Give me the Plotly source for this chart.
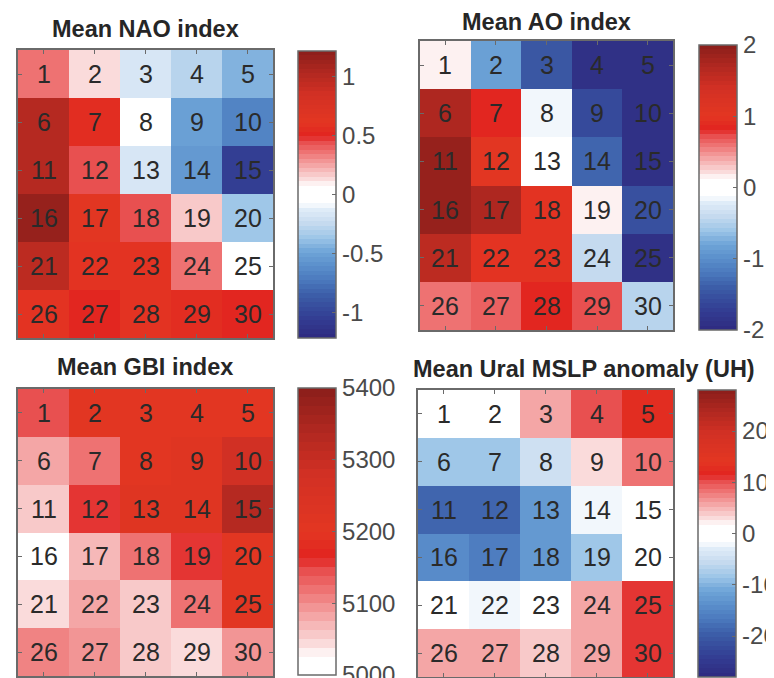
import plotly.graph_objects as go

# ---------------- data ----------------
cell_labels = [[str(r * 5 + c + 1) for c in range(5)] for r in range(6)]

nao_values = [
    [0.37, 0.12, -0.18, -0.30, -0.45],
    [1.00, 0.57, 0.00, -0.50, -0.67],
    [1.00, 0.43, -0.16, -0.57, -1.05],
    [1.18, 0.62, 0.42, 0.18, -0.37],
    [0.98, 0.60, 0.60, 0.37, 0.00],
    [0.60, 0.52, 0.58, 0.55, 0.52],
]
ao_values = [
    [0.16, -0.84, -1.44, -1.90, -1.90],
    [1.70, 0.86, -0.16, -1.60, -1.90],
    [1.90, 1.04, 0.00, -1.32, -1.90],
    [1.90, 1.70, 1.00, 0.16, -1.52],
    [1.62, 1.00, 1.00, -0.40, -1.90],
    [0.60, 0.68, 0.86, 0.70, -0.50],
]
gbi_values = [
    [5140, 5208, 5210, 5208, 5208],
    [5080, 5120, 5210, 5220, 5280],
    [5052, 5152, 5215, 5225, 5332],
    [5000, 5072, 5116, 5160, 5205],
    [5040, 5080, 5056, 5120, 5205],
    [5108, 5088, 5056, 5040, 5088],
]
ural_values = [
    [0.0, 0.0, 5.6, 10.4, 12.6],
    [-8.4, -8.4, -5.0, 2.8, 8.4],
    [-18.5, -18.5, -12.6, -2.2, 0.0],
    [-14.6, -16.2, -12.6, -8.4, 0.0],
    [0.0, -2.2, 0.0, 5.6, 10.6],
    [5.6, 5.6, 4.2, 5.6, 10.6],
]

titles = ["Mean NAO index", "Mean AO index", "Mean GBI index", "Mean Ural MSLP anomaly (UH)"]

nao_ticks = [-1, -0.5, 0, 0.5, 1]
nao_ticktext = ["-1", "-0.5", "0", "0.5", "1"]
ao_ticks = [-2, -1, 0, 1, 2]
ao_ticktext = ["-2", "-1", "0", "1", "2"]
gbi_ticks = [5000, 5100, 5200, 5300, 5400]
gbi_ticktext = ["5000", "5100", "5200", "5300", "5400"]
ural_ticks = [-20, -10, 0, 10, 20]
ural_ticktext = ["-20", "-10", "0", "10", "20"]

# ---------------- colormap ----------------
red_anchors = [
    (0.0, (255, 255, 255)), (0.06, (255, 255, 255)), (0.1, (251, 224, 224)),
    (0.2, (244, 168, 168)), (0.3, (238, 112, 112)), (0.36, (232, 80, 80)),
    (0.41, (226, 36, 32)), (0.5, (227, 54, 34)), (0.7, (210, 48, 36)),
    (0.85, (176, 40, 32)), (1.0, (138, 30, 26)),
]
blue_anchors = [
    (0.0, (255, 255, 255)), (0.06, (255, 255, 255)), (0.1, (226, 238, 249)),
    (0.2, (198, 219, 239)), (0.3, (158, 198, 232)), (0.4, (111, 165, 216)),
    (0.5, (90, 143, 203)), (0.6, (74, 120, 189)), (0.7, (60, 94, 168)),
    (0.85, (51, 63, 148)), (1.0, (46, 42, 128)),
]


def interp(anchors, f):
    f = min(max(f, 0.0), 1.0)
    for (f0, c0), (f1, c1) in zip(anchors[:-1], anchors[1:]):
        if f0 <= f <= f1:
            t = 0 if f1 == f0 else (f - f0) / (f1 - f0)
            return tuple(int(round(a + (b - a) * t)) for a, b in zip(c0, c1))
    return anchors[-1][1]


def rgb(c):
    return "rgb(%d,%d,%d)" % c


def diverging_scale(n_half=32):
    scale = []
    n = 2 * n_half
    for i in range(n):
        lo, hi = i / n, (i + 1) / n
        mid = (lo + hi) / 2
        s = mid * 2 - 1
        c = interp(red_anchors, s) if s >= 0 else interp(blue_anchors, -s)
        scale.append([lo, rgb(c)])
        scale.append([hi, rgb(c)])
    return scale


def red_scale(n=32):
    scale = []
    for i in range(n):
        lo, hi = i / n, (i + 1) / n
        c = interp(red_anchors, (lo + hi) / 2)
        scale.append([lo, rgb(c)])
        scale.append([hi, rgb(c)])
    return scale


W, H = 774, 678
FONT = "Liberation Sans, Arial, sans-serif"

panels = [
    dict(z=nao_values, zmin=-1.22, zmax=1.22, cs=diverging_scale(), ticks=nao_ticks, tt=nao_ticktext,
         ax=(10, 265), ay=(42, 330), cbx=290, cby=(43, 330), tx=137, ty=21),
    dict(z=ao_values, zmin=-2.0001, zmax=2.0001, cs=diverging_scale(), ticks=ao_ticks, tt=ao_ticktext,
         ax=(412, 665), ay=(33, 322), cbx=691, cby=(37, 322), tx=538, ty=14),
    dict(z=gbi_values, zmin=4999.9, zmax=5400.1, cs=red_scale(), ticks=gbi_ticks, tt=gbi_ticktext,
         ax=(10, 265), ay=(381, 668), cbx=290, cby=(380, 667), tx=137, ty=359),
    dict(z=ural_values, zmin=-28, zmax=28, cs=diverging_scale(), ticks=ural_ticks, tt=ural_ticktext,
         ax=(410, 665), ay=(382, 669), cbx=690, cby=(382, 669), tx=576, ty=361),
]

fig = go.Figure()
annotations = []
frame_col = "#6a6a6a"
xcols = [1, 2, 3, 4, 5]
yrows = [1, 2, 3, 4, 5, 6]

for i, p in enumerate(panels):
    k = "" if i == 0 else str(i + 1)
    fig.add_trace(go.Heatmap(
        z=p["z"], x=xcols, y=yrows, zmin=p["zmin"], zmax=p["zmax"],
        colorscale=p["cs"], text=cell_labels, texttemplate="%{text}",
        textfont=dict(size=25, color="#2a2a2a", family=FONT),
        hoverinfo="skip",
        xaxis="x" + k, yaxis="y" + k,
        colorbar=dict(
            x=p["cbx"] / W, xanchor="left", xpad=0,
            y=1 - p["cby"][0] / H, yanchor="top", ypad=0,
            lenmode="pixels", len=p["cby"][1] - p["cby"][0],
            thickness=38, thicknessmode="pixels",
            outlinewidth=1.5, outlinecolor=frame_col,
            tickmode="array", tickvals=p["ticks"], ticktext=p["tt"],
            ticks="inside", ticklen=4, tickcolor=frame_col,
            ticklabeloverflow="allow",
            tickfont=dict(size=24, color="#4a4a4a", family=FONT),
        ),
    ))
    axis_common = dict(showgrid=False, zeroline=False, showticklabels=False,
                       showline=True, linecolor=frame_col, linewidth=1.5, mirror="ticks",
                       ticks="inside", ticklen=4, tickcolor=frame_col, tickwidth=1)
    fig.update_layout(**{
        "xaxis" + k: dict(domain=[p["ax"][0] / W, p["ax"][1] / W], anchor="y" + k,
                          range=[0.5, 5.5], tickvals=xcols, **axis_common),
        "yaxis" + k: dict(domain=[1 - p["ay"][1] / H, 1 - p["ay"][0] / H], anchor="x" + k,
                          range=[6.5, 0.5], tickvals=yrows, **axis_common),
    })
    annotations.append(dict(
        text="<b>" + titles[i] + "</b>", x=p["tx"] / W, y=1 - p["ty"] / H,
        xref="paper", yref="paper", xanchor="center", yanchor="middle", showarrow=False,
        font=dict(size=23.5, color="#262626", family=FONT),
    ))

fig.update_layout(
    width=W, height=H, margin=dict(l=0, r=0, t=0, b=0),
    paper_bgcolor="white", plot_bgcolor="white",
    annotations=annotations, showlegend=False,
)

fig.write_html("out.html")
